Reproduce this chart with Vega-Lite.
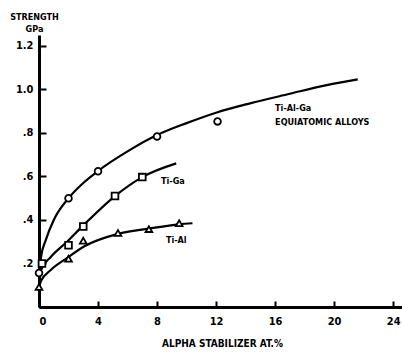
{
  "$schema": "https://vega.github.io/schema/vega-lite/v6.json",
  "width": 363,
  "height": 272,
  "autosize": {"type": "none"},
  "padding": {"left": 39, "top": 35, "right": 0, "bottom": 45},
  "background": "white",
  "config": {
    "view": {"stroke": null},
    "font": "Liberation Sans Narrow, DejaVu Sans Condensed, DejaVu Sans, sans-serif",
    "axis": {"labelFontWeight": "bold", "titleFontWeight": "bold", "labelColor": "black", "titleColor": "black", "domainColor": "black", "tickColor": "black", "grid": false}
  },
  "datasets": {
    "curves": [
      {"series": "Ti-Al-Ga", "x": 0, "y": 0.10},
      {"series": "Ti-Al-Ga", "x": 0.14, "y": 0.23},
      {"series": "Ti-Al-Ga", "x": 0.47, "y": 0.31},
      {"series": "Ti-Al-Ga", "x": 1.0, "y": 0.40},
      {"series": "Ti-Al-Ga", "x": 2.0, "y": 0.50},
      {"series": "Ti-Al-Ga", "x": 3.0, "y": 0.57},
      {"series": "Ti-Al-Ga", "x": 4.0, "y": 0.625},
      {"series": "Ti-Al-Ga", "x": 6.0, "y": 0.715},
      {"series": "Ti-Al-Ga", "x": 8.0, "y": 0.79},
      {"series": "Ti-Al-Ga", "x": 10.0, "y": 0.845},
      {"series": "Ti-Al-Ga", "x": 12.0, "y": 0.893},
      {"series": "Ti-Al-Ga", "x": 14.3, "y": 0.936},
      {"series": "Ti-Al-Ga", "x": 17.0, "y": 0.98},
      {"series": "Ti-Al-Ga", "x": 19.5, "y": 1.02},
      {"series": "Ti-Al-Ga", "x": 21.6, "y": 1.046},
      {"series": "Ti-Ga", "x": 0, "y": 0.10},
      {"series": "Ti-Ga", "x": 0.14, "y": 0.17},
      {"series": "Ti-Ga", "x": 0.8, "y": 0.23},
      {"series": "Ti-Ga", "x": 1.9, "y": 0.30},
      {"series": "Ti-Ga", "x": 3.0, "y": 0.375},
      {"series": "Ti-Ga", "x": 5.15, "y": 0.51},
      {"series": "Ti-Ga", "x": 7.0, "y": 0.597},
      {"series": "Ti-Ga", "x": 9.3, "y": 0.66},
      {"series": "Ti-Al", "x": 0, "y": 0.09},
      {"series": "Ti-Al", "x": 0.14, "y": 0.12},
      {"series": "Ti-Al", "x": 0.8, "y": 0.17},
      {"series": "Ti-Al", "x": 1.9, "y": 0.225},
      {"series": "Ti-Al", "x": 3.05, "y": 0.278},
      {"series": "Ti-Al", "x": 5.35, "y": 0.336},
      {"series": "Ti-Al", "x": 7.45, "y": 0.36},
      {"series": "Ti-Al", "x": 9.5, "y": 0.38},
      {"series": "Ti-Al", "x": 10.4, "y": 0.385}
    ],
    "points": [
      {"series": "Ti-Al-Ga", "x": 0, "y": 0.156},
      {"series": "Ti-Al-Ga", "x": 2.0, "y": 0.50},
      {"series": "Ti-Al-Ga", "x": 4.0, "y": 0.624},
      {"series": "Ti-Al-Ga", "x": 8.0, "y": 0.784},
      {"series": "Ti-Al-Ga", "x": 12.1, "y": 0.853},
      {"series": "Ti-Ga", "x": 0.2, "y": 0.20},
      {"series": "Ti-Ga", "x": 2.0, "y": 0.284},
      {"series": "Ti-Ga", "x": 3.0, "y": 0.37},
      {"series": "Ti-Ga", "x": 5.15, "y": 0.51},
      {"series": "Ti-Ga", "x": 7.0, "y": 0.597},
      {"series": "Ti-Al", "x": 0, "y": 0.092},
      {"series": "Ti-Al", "x": 2.0, "y": 0.222},
      {"series": "Ti-Al", "x": 3.0, "y": 0.305},
      {"series": "Ti-Al", "x": 5.35, "y": 0.34},
      {"series": "Ti-Al", "x": 7.45, "y": 0.358},
      {"series": "Ti-Al", "x": 9.5, "y": 0.385}
    ],
    "labels": [
      {"x": 16.0, "y": 0.90, "text": "Ti-Al-Ga"},
      {"x": 16.0, "y": 0.835, "text": "EQUIATOMIC ALLOYS"},
      {"x": 8.27, "y": 0.564, "text": "Ti-Ga"},
      {"x": 8.6, "y": 0.294, "text": "Ti-Al"}
    ]
  },
  "layer": [
    {
      "data": {"name": "curves"},
      "mark": {"type": "line", "interpolate": "monotone", "color": "black", "strokeWidth": 2.2},
      "encoding": {
        "x": {
          "field": "x", "type": "quantitative",
          "scale": {"domain": [0, 24.6], "nice": false},
          "axis": {
            "values": [0, 2, 4, 6, 8, 10, 12, 14, 16, 18, 20, 22, 24],
            "labelExpr": "datum.value % 4 == 0 ? datum.label : ''",
            "tickSize": -6, "tickWidth": 2, "domainWidth": 3,
            "labelFontSize": 11, "labelPadding": 14,
            "title": "ALPHA STABILIZER AT.%", "titleFontSize": 10, "titlePadding": 12, "titleX": 183
          }
        },
        "y": {
          "field": "y", "type": "quantitative",
          "scale": {"domain": [0, 1.25], "nice": false},
          "axis": {
            "values": [0, 0.2, 0.4, 0.6, 0.8, 1.0, 1.2],
            "labelExpr": "datum.value == 0 ? '' : (datum.value >= 1 ? format(datum.value, '.1f') : replace(format(datum.value, '.1f'), '0.', '.'))",
            "tickSize": -7, "tickWidth": 2, "domainWidth": 3,
            "labelFontSize": 11, "labelPadding": 13,
            "title": ["STRENGTH", "GPa"], "titleFontSize": 9, "titleAngle": 0,
            "titleAlign": "center", "titleBaseline": "alphabetic",
            "titleX": -5, "titleY": -16, "titleLineHeight": 12
          }
        },
        "detail": {"field": "series"}
      }
    },
    {
      "data": {"name": "points"},
      "mark": {"type": "point", "filled": true, "fill": "white", "stroke": "black", "strokeWidth": 1.8, "size": 45, "opacity": 1},
      "encoding": {
        "x": {"field": "x", "type": "quantitative"},
        "y": {"field": "y", "type": "quantitative"},
        "shape": {
          "field": "series", "type": "nominal", "legend": null,
          "scale": {"domain": ["Ti-Al-Ga", "Ti-Ga", "Ti-Al"], "range": ["circle", "square", "triangle-up"]}
        }
      }
    },
    {
      "data": {"name": "labels"},
      "mark": {"type": "text", "align": "left", "baseline": "alphabetic", "fontSize": 9, "fontWeight": "bold", "color": "black"},
      "encoding": {
        "x": {"field": "x", "type": "quantitative"},
        "y": {"field": "y", "type": "quantitative"},
        "text": {"field": "text"}
      }
    }
  ]
}
